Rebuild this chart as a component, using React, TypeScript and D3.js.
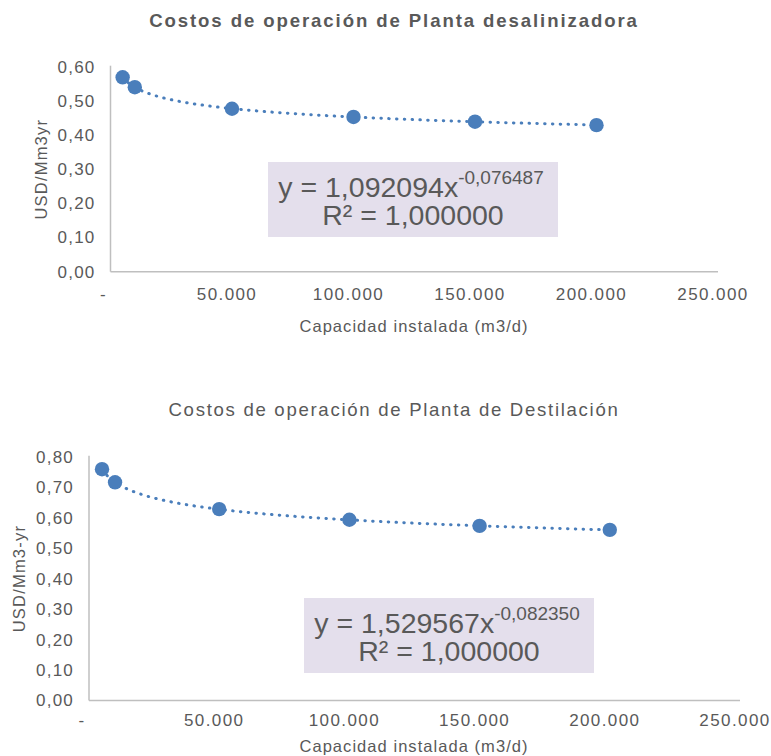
import React from "react";
import * as d3 from "d3";

const capacity = [5000, 10000, 50000, 100000, 150000, 200000];
const desalCost = [0.569, 0.54, 0.477, 0.453, 0.439, 0.429];
const distCost = [0.759, 0.716, 0.628, 0.593, 0.573, 0.56];
const xTicks = [0, 50000, 100000, 150000, 200000, 250000];
const xTickLabels = ["-", "50.000", "100.000", "150.000", "200.000", "250.000"];
const desalYTicks = [0, 0.1, 0.2, 0.3, 0.4, 0.5, 0.6];
const distYTicks = [0, 0.1, 0.2, 0.3, 0.4, 0.5, 0.6, 0.7, 0.8];
const desalFit = { a: 1.092094, b: -0.076487, aText: "1,092094", bText: "-0,076487" };
const distFit = { a: 1.529567, b: -0.08235, aText: "1,529567", bText: "-0,082350" };

const FONT = "'Liberation Sans', Arial, sans-serif";
const TEXT = "#595959";
const AXIS = "#bfbfbf";
const BLUE = "#4a7ebb";

type ChartProps = {
  title: string;
  bold: boolean;
  titleY: number;
  titleSpacing: number;
  yLabel: string;
  yLabelX: number;
  values: number[];
  yTicks: number[];
  yMax: number;
  x0: number;
  x1: number;
  yTop: number;
  yBottom: number;
  tickOffset: number;
  xTitleOffset: number;
  fit: { a: number; b: number; aText: string; bText: string };
  box: { x: number; y: number; w: number; h: number };
};

function Chart(p: ChartProps) {
  const x = d3.scaleLinear().domain([0, 250000]).range([p.x0, p.x1]);
  const y = d3.scaleLinear().domain([0, p.yMax]).range([p.yBottom, p.yTop]);
  const fmtY = (v: number) => d3.format(".2f")(v).replace(".", ",");
  const xs = d3.range(capacity[0], capacity[capacity.length - 1] + 1, 1000);
  const trend = d3
    .line<number>()
    .x((d) => x(d))
    .y((d) => y(p.fit.a * Math.pow(d, p.fit.b)))(xs);
  const cx = p.box.x + p.box.w / 2;
  return (
    <g fontFamily={FONT}>
      <text
        x={394}
        y={p.titleY}
        textAnchor="middle"
        fontSize={18.6}
        letterSpacing={p.titleSpacing}
        fontWeight={p.bold ? "bold" : "normal"}
        fill={TEXT}
      >
        {p.title}
      </text>
      <line x1={p.x0} x2={p.x0} y1={p.yTop - 1} y2={p.yBottom} stroke={AXIS} strokeWidth={1.5} />
      <line x1={p.x0} x2={p.x1} y1={p.yBottom} y2={p.yBottom} stroke={AXIS} strokeWidth={1.5} />
      {p.yTicks.map((t) => (
        <text
          key={t}
          x={p.x0 - 15}
          y={y(t)}
          dy="0.35em"
          textAnchor="end"
          fontSize={17}
          letterSpacing={1.2}
          fill={TEXT}
        >
          {fmtY(t)}
        </text>
      ))}
      {xTicks.map((t, i) => (
        <text
          key={t}
          x={x(t) - (i === 0 ? 7 : 5)}
          y={p.yBottom + p.tickOffset}
          dy="0.35em"
          textAnchor="middle"
          fontSize={17}
          letterSpacing={1.4}
          fill={TEXT}
        >
          {xTickLabels[i]}
        </text>
      ))}
      <text
        x={414}
        y={p.yBottom + p.xTitleOffset}
        dy="0.35em"
        textAnchor="middle"
        fontSize={16.5}
        letterSpacing={1.05}
        fill={TEXT}
      >
        Capacidad instalada (m3/d)
      </text>
      <text
        transform={`translate(${p.yLabelX},${(p.yTop + p.yBottom) / 2}) rotate(-90)`}
        textAnchor="middle"
        fontSize={16.5}
        letterSpacing={1.2}
        fill={TEXT}
      >
        {p.yLabel}
      </text>
      <path
        d={trend || ""}
        fill="none"
        stroke={BLUE}
        strokeWidth={3}
        strokeLinecap="round"
        strokeDasharray="0.5 7.3"
      />
      {capacity.map((c, i) => (
        <circle key={c} cx={x(c)} cy={y(p.values[i])} r={7.2} fill={BLUE} />
      ))}
      <rect x={p.box.x} y={p.box.y} width={p.box.w} height={p.box.h} fill="#e4dfec" />
      <text x={cx - 2} y={p.box.y + 35} textAnchor="middle" fontSize={28.5} fill={TEXT}>
        {"y = " + p.fit.aText + "x"}
        <tspan fontSize={19} dy={-13}>
          {p.fit.bText}
        </tspan>
      </text>
      <text x={cx} y={p.box.y + 63} textAnchor="middle" fontSize={28.5} fill={TEXT}>
        R² = 1,000000
      </text>
    </g>
  );
}

export default function App() {
  return (
    <svg
      width={771}
      height={756}
      style={{ position: "absolute", left: 0, top: 0, background: "#fff" }}
    >
      <rect width={771} height={756} fill="#fff" />
      <Chart
        title="Costos de operación de Planta desalinizadora"
        bold={true}
        titleY={26.7}
        titleSpacing={1.9}
        yLabel="USD/Mm3yr"
        yLabelX={47}
        values={desalCost}
        yTicks={desalYTicks}
        yMax={0.6}
        x0={110.5}
        x1={718}
        yTop={66.7}
        yBottom={271.7}
        tickOffset={22.8}
        xTitleOffset={55}
        fit={desalFit}
        box={{ x: 268, y: 162, w: 290, h: 75 }}
      />
      <Chart
        title="Costos de operación de Planta de Destilación"
        bold={false}
        titleY={415.7}
        titleSpacing={1.7}
        yLabel="USD/Mm3-yr"
        yLabelX={25}
        values={distCost}
        yTicks={distYTicks}
        yMax={0.8}
        x0={89}
        x1={740}
        yTop={456.7}
        yBottom={700.5}
        tickOffset={20}
        xTitleOffset={46}
        fit={distFit}
        box={{ x: 304, y: 598, w: 290, h: 75 }}
      />
    </svg>
  );
}
